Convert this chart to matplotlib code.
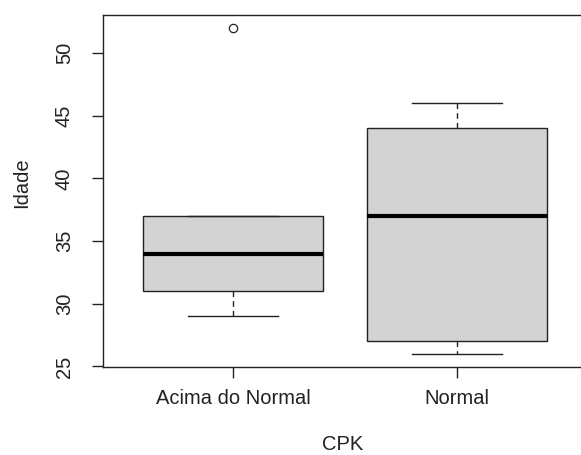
import matplotlib
matplotlib.use("Agg")
import matplotlib.pyplot as plt

categories = ["Acima do Normal", "Normal"]
q1 = [31, 27]
medians = [34, 37]
q3 = [37, 44]
whisker_low = [29, 26]
whisker_high = [37, 46]
outliers = [[52], []]
yticks = [25, 30, 35, 40, 45, 50]

plt.rcParams['font.family'] = ['Liberation Sans', 'DejaVu Sans']

fig = plt.figure(figsize=(5.81, 4.55), dpi=100)
W, H = 581, 455
left, right, top, bottom = 103, 587, 15, 367
ax = fig.add_axes([left / W, 1 - bottom / H, (right - left) / W, (bottom - top) / H])

stats = []
for i, c in enumerate(categories):
    stats.append(dict(label=c, q1=q1[i], med=medians[i], q3=q3[i],
                      whislo=whisker_low[i], whishi=whisker_high[i], fliers=outliers[i]))

ax.bxp(stats, positions=[1, 2], widths=0.8, patch_artist=True, showfliers=True,
       boxprops=dict(facecolor="#d3d3d3", edgecolor="#222222", linewidth=1.0),
       medianprops=dict(color="black", linewidth=3.0, solid_capstyle="butt"),
       whiskerprops=dict(color="#222222", linewidth=1.0, linestyle=(0, (4, 3))),
       capprops=dict(color="#222222", linewidth=1.0),
       capwidths=0.4,
       flierprops=dict(marker="o", markerfacecolor="none", markeredgecolor="#222222",
                       markersize=6, markeredgewidth=0.9))

ax.set_xlim(0.42, 2.58)
ax.set_ylim(24.96, 53.04)
ax.set_yticks(yticks)
ax.set_yticklabels([str(v) for v in yticks], rotation=90, va="center")
ax.set_xticks([1, 2])
ax.set_xticklabels(categories)
ax.tick_params(axis="both", direction="out", length=8, width=1.0, color="#222222",
               labelsize=14.5, labelcolor="#222222")
ax.tick_params(axis="x", pad=8)
ax.tick_params(axis="y", pad=13)
for s in ax.spines.values():
    s.set_color("#222222")
    s.set_linewidth(1.0)

fig.text(22 / W, 1 - 183 / H, "Idade", rotation=90, ha="center", va="center",
         fontsize=14.5, color="#222222")
fig.text(343 / W, 1 - 445 / H, "CPK", ha="center", va="center", fontsize=14.5, color="#222222")

fig.savefig("out.png", dpi=100)
